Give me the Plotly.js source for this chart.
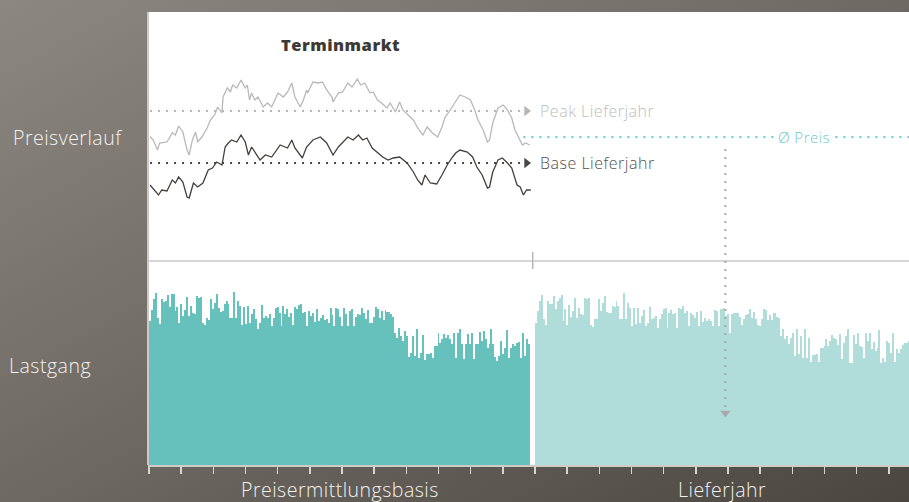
<!DOCTYPE html>
<html>
<head>
<meta charset="utf-8">
<script src="https://cdn.plot.ly/plotly-3.0.1.min.js"></script>
<style>
html,body{margin:0;padding:0;}
body{width:909px;height:502px;overflow:hidden;background:linear-gradient(to bottom right,#8c8781 0%,#6e6963 50%,#4c4640 100%);}
#chart{width:909px;height:502px;}
.annotation-text{letter-spacing:0.5px;}
</style>
</head>
<body>
<div id="chart"></div>
<script>
// ---- Data ----
// Price history (Terminmarkt), x = day of the price-determination year, y = €/MWh
const peakDays = [1,4,8,10,17,22,25,28,32,36,38,41,44,46,50,55,58,62,65,69,70,74,77,79,83,87,91,93,95,97,100,103,108,112,116,122,127,131,135,138,143,146,149,150,155,160,164,168,173,174,179,183,188,192,197,200,204,209,212,216,220,225,228,233,237,240,245,250,254,259,263,268,273,277,280,285,289,294,299,304,308,311,316,320,322,325,330,335,339,343,346,349,353,356,360];
const peakPrice = [44.9,44.2,42.2,43.6,43.8,45.6,45.2,47.0,45.8,42.2,41.2,44.2,45.8,43.8,44.8,46.6,48.2,49.2,50.8,49.6,52.8,54.6,53.8,55.2,54.6,56.2,54.6,55.2,52.2,53.6,52.2,52.8,50.8,51.6,50.8,53.6,52.8,53.8,55.6,52.8,50.8,52.2,54.2,53.6,55.8,55.6,55.8,54.2,52.8,51.8,53.6,53.8,55.6,54.8,56.4,55.2,55.6,53.6,53.8,52.2,51.6,50.6,51.6,49.8,51.8,50.2,49.2,48.2,46.6,45.2,46.8,45.6,44.8,46.8,48.8,50.2,51.6,53.2,52.8,52.2,50.2,48.2,46.2,43.8,44.2,47.6,50.6,51.2,50.2,48.6,46.2,44.8,43.2,43.6,43.2];
const baseDays = [1,6,9,12,17,22,25,28,32,36,38,42,46,51,56,60,64,69,72,75,78,83,87,91,94,97,100,105,110,116,124,131,135,138,145,149,155,162,168,174,179,183,188,193,198,202,206,211,217,221,226,231,237,244,250,254,258,261,266,272,277,282,287,290,294,301,306,310,315,320,322,325,330,334,339,343,348,351,354,357,361];
const basePrice = [35.2,33.8,33.2,34.2,34.0,36.2,35.6,36.8,35.8,32.8,32.6,35.6,34.8,35.6,38.2,38.6,39.8,39.2,42.8,43.6,44.2,43.8,45.2,43.8,41.2,42.8,41.8,40.2,41.2,40.8,43.2,42.6,44.2,42.6,40.6,42.8,44.2,44.8,43.6,41.2,42.8,43.6,44.8,44.2,45.2,44.2,44.6,42.6,41.6,40.8,40.2,40.6,40.8,39.6,37.8,36.2,35.2,37.2,35.6,35.4,37.2,39.2,40.8,41.6,42.2,41.8,40.8,38.8,37.2,34.6,34.8,37.8,40.2,40.6,39.6,38.6,35.2,34.8,33.2,34.2,34.2];
const peakAvg = 50.0;     // Peak Lieferjahr
const baseAvg = 39.6;     // Base Lieferjahr
const avgPrice = 44.8;    // Ø Preis

// Load profile (Lastgang)
const loadBasis = [144,155,166,172,147,141,166,163,164,170,158,171,171,154,158,142,161,149,155,168,149,159,152,151,169,167,168,142,140,147,145,166,156,162,171,157,153,154,161,164,161,147,147,173,147,164,159,140,158,141,159,142,151,156,146,136,142,160,147,149,147,151,139,147,157,158,152,139,159,151,156,148,152,140,158,156,160,161,152,153,139,154,149,152,143,156,144,147,150,145,146,142,157,150,139,157,156,148,139,157,151,139,154,156,139,148,151,150,157,152,146,155,142,142,148,158,156,147,154,145,155,153,153,151,148,132,127,137,129,124,134,129,108,112,129,109,136,107,112,130,105,111,111,112,107,119,119,132,122,126,131,127,130,126,121,132,107,132,136,121,106,121,131,121,132,106,121,121,133,124,134,126,117,121,136,121,108,104,109,124,111,117,135,107,117,121,119,122,123,107,132,109,126,121];
const loadDelivery = [142,154,164,170,146,140,164,161,161,169,156,164,167,170,144,156,140,160,148,154,167,147,157,151,150,167,166,167,140,138,146,146,166,154,162,169,153,152,152,159,158,164,159,146,146,172,146,162,157,139,157,141,157,142,149,155,139,142,158,146,147,149,137,146,151,156,157,137,152,155,151,152,137,157,156,159,152,154,139,152,150,147,153,139,154,143,147,144,146,144,139,155,154,139,156,156,157,149,151,132,151,152,152,152,148,140,146,150,151,156,147,153,146,140,139,146,156,155,145,150,145,152,152,148,147,129,136,126,129,121,127,132,109,136,111,129,107,136,107,127,103,110,110,111,103,117,117,119,126,119,124,130,127,126,120,131,106,122,129,136,102,102,130,121,132,119,118,107,132,124,132,116,123,114,117,135,102,107,103,124,122,112,132,103,116,112,116,120,122,122,124];

const xLabels = ['Preisermittlungsbasis','Lieferjahr'];
const rowLabels = ['Preisverlauf','Lastgang'];

// ---- Derived ----
const yearDays = 365;
const barW = 360 / loadBasis.length;
const xBasis = loadBasis.map((_, i) => (i + 0.5) * barW);
const xDelivery = loadDelivery.map((_, i) => yearDays + (i + 0.5) * barW);

const font = '"Open Sans", Lato, sans-serif';
const split = 204 / 453;
const teal = '#6fcac4';
const px2x = p => (p - 148) / 761;
const py2y = p => (465 - p) / 453;

const traces = [
  {type:'bar', x:xBasis, y:loadBasis, width:barW, marker:{color:'#66c0bc', line:{width:0}}, xaxis:'x', yaxis:'y', hoverinfo:'skip'},
  {type:'bar', x:xDelivery, y:loadDelivery, width:barW, marker:{color:'#b0dcd9', line:{width:0}}, xaxis:'x', yaxis:'y', hoverinfo:'skip'},
  // average lines
  {type:'scatter', mode:'lines', x:[1,353], y:[peakAvg,peakAvg], line:{color:'#b5b5b5', width:2, dash:'2px,6px'}, xaxis:'x', yaxis:'y2'},
  {type:'scatter', mode:'lines', x:[1,353], y:[baseAvg,baseAvg], line:{color:'#4a4644', width:2, dash:'2px,6px'}, xaxis:'x', yaxis:'y2'},
  {type:'scatter', mode:'markers', x:[357,357], y:[peakAvg,baseAvg], marker:{symbol:'triangle-right', size:9, color:['#b5b5b5','#4a4644']}, xaxis:'x', yaxis:'y2'},
  {type:'scatter', mode:'lines', x:[354,720], y:[avgPrice,avgPrice], line:{color:teal, width:2, dash:'2px,6px'}, xaxis:'x', yaxis:'y2'},
  // price curves
  {type:'scatter', mode:'lines', x:peakDays, y:peakPrice, line:{color:'#b9b9b9', width:1.3}, xaxis:'x', yaxis:'y2'},
  {type:'scatter', mode:'lines', x:baseDays, y:basePrice, line:{color:'#44413e', width:1.3}, xaxis:'x', yaxis:'y2'},
  // arrow head of vertical pointer
  {type:'scatter', mode:'markers', x:[545], y:[52], marker:{symbol:'triangle-down', size:9, color:'#a9a9a9'}, xaxis:'x', yaxis:'y'}
];

const ann = (x, y, text, size, color, extra) => Object.assign({xref:'paper', yref:'paper', x:x, y:y, text:text, showarrow:false, xanchor:'center', yanchor:'middle', font:{family:font, size:size, color:color, weight:300}}, extra || {});

const layout = {
  width:909, height:502,
  margin:{l:148, r:0, t:12, b:37},
  paper_bgcolor:'rgba(0,0,0,0)',
  plot_bgcolor:'#ffffff',
  showlegend:false,
  bargap:0,
  barmode:'overlay',
  font:{family:font},
  xaxis:{range:[-0.95,718.6], anchor:'y', showgrid:false, zeroline:false, showticklabels:false,
         ticks:'outside', tick0:0, dtick:yearDays/12, ticklen:7, tickwidth:1.5, tickcolor:'#d8d4cf',
         showline:true, linecolor:'#cfcbc6', linewidth:2},
  yaxis:{domain:[0,split], range:[0,204], showgrid:false, zeroline:false, showticklabels:false, showline:false},
  yaxis2:{domain:[split,1], range:[20,69.8], anchor:'x', showgrid:false, zeroline:false, showticklabels:false, showline:false},
  shapes:[
    {type:'line', xref:'paper', yref:'paper', x0:0, x1:0, y0:0, y1:1, line:{color:'#cdc9c4', width:2}},
    {type:'line', xref:'paper', yref:'paper', x0:0, x1:1, y0:split, y1:split, line:{color:'#c9c9c9', width:1.5}},
    {type:'line', xref:'x', yref:'paper', x0:362.8, x1:362.8, y0:py2y(269), y1:py2y(252), line:{color:'#b5b5b5', width:1.5}},
    {type:'line', xref:'x', yref:'paper', x0:545, x1:545, y0:py2y(407), y1:py2y(143), line:{color:'#a9a9a9', width:2, dash:'2px,6px'}}
  ],
  annotations:[
    ann(px2x(340), py2y(44), 'Terminmarkt', 16.5, '#3d3935', {font:{family:font, size:16.5, color:'#3d3935', weight:800}}),
    {xref:'x', yref:'y2', x:367.8, y:peakAvg, xanchor:'left', yanchor:'middle', text:'Peak Lieferjahr', showarrow:false, font:{family:font, size:16, color:'#bdbdbd', weight:300}},
    {xref:'x', yref:'y2', x:367.8, y:baseAvg, xanchor:'left', yanchor:'middle', text:'Base Lieferjahr', showarrow:false, font:{family:font, size:16, color:'#55514e', weight:300}},
    ann(px2x(804), 0, 'Ø Preis', 15, teal, {yref:'y2', y:avgPrice, bgcolor:'#ffffff', borderpad:1}),
    ann(px2x(67), py2y(137), rowLabels[0], 19.5, '#f4f2ef'),
    ann(px2x(49.5), py2y(365), rowLabels[1], 19.5, '#f4f2ef'),
    ann(px2x(340), py2y(489), xLabels[0], 19.5, '#f4f2ef'),
    ann(px2x(722), py2y(489), xLabels[1], 19.5, '#f4f2ef')
  ]
};

Plotly.newPlot('chart', traces, layout, {staticPlot:true, displayModeBar:false});
</script>
</body>
</html>
